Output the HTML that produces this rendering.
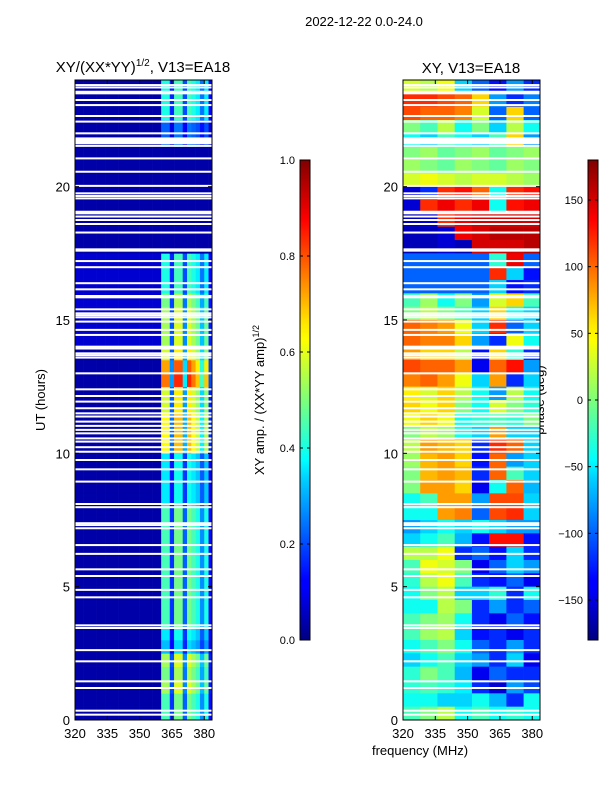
<!DOCTYPE html>
<html><head><meta charset="utf-8"><style>
body{margin:0;background:#fff;}
svg{display:block;font-family:"Liberation Sans",sans-serif;}
</style></head><body>
<svg id="fig" width="600" height="800" viewBox="0 0 600 800">
<defs>
<linearGradient id="jet" x1="0" y1="1" x2="0" y2="0">
<stop offset="0" stop-color="#000080"/><stop offset="0.11" stop-color="#0000ff"/><stop offset="0.125" stop-color="#0000ff"/>
<stop offset="0.34" stop-color="#00d4ff"/><stop offset="0.375" stop-color="#00ffff"/><stop offset="0.5" stop-color="#7dff7a"/>
<stop offset="0.625" stop-color="#ffff00"/><stop offset="0.66" stop-color="#ffe600"/><stop offset="0.875" stop-color="#ff0000"/><stop offset="1" stop-color="#800000"/>
</linearGradient>
</defs>
<text x="364" y="26" font-size="13" text-anchor="middle">2022-12-22 0.0-24.0</text>
<text x="143" y="72" font-size="15" text-anchor="middle">XY/(XX*YY)<tspan font-size="10" dy="-6">1/2</tspan><tspan dy="6">, V13=EA18</tspan></text>
<text x="471" y="73" font-size="15" text-anchor="middle">XY, V13=EA18</text>
<text transform="translate(45,400) rotate(-90)" font-size="13" text-anchor="middle">UT (hours)</text>
<text transform="translate(264,400) rotate(-90)" font-size="13" text-anchor="middle">XY amp. / (XX*YY amp)<tspan font-size="9" dy="-5">1/2</tspan></text>
<text transform="translate(544,400) rotate(-90)" font-size="13" text-anchor="middle">phase (deg)</text>
<text x="420" y="755" font-size="13" text-anchor="middle">frequency (MHz)</text>
<g id="left"></g><g id="right"></g><g id="cbars"></g>
</svg>
<script>
// ---- data ----
const freqTicks=[320,335,350,365,380];
const hourTicks=[0,5,10,15,20];
const ampTicks=[0.0,0.2,0.4,0.6,0.8,1.0];
const phaseTicks=[-150,-100,-50,0,50,100,150];
// left panel: amplitude band strength per half-hour row (0h upward)
const ampRow=[0.45,0.45,0.55,0.5,0.55,0.3,0.35,0.45,0.45,0.45,0.45,0.45,0.45,0.45,0.45,0.45,0.35,0.35,0.35,0.35,0.65,0.65,0.65,0.6,0.6,0.8,0.75,0.6,0.55,0.55,0.55,0.5,0.4,0.4,0.4,0,0,0,0,0,0,0,0,0.2,0.2,0.4,0.4,0.4];
// spectral shape across 2-MHz channels 320..384
const ampCol=[0,0,0,0,0,0,0,0,0,0,0,0,0,0,0,0,0,0,0,0,0.9,0.9,0.3,1,1,0.4,1,0.9,0.8,0.5,0.8,0.2];
const ampBase=0.04;
// right panel: phase (deg), 8 channels of 8 MHz, rows listed from top (24h) downward, half-hour each
const phaseRows=[
[30,20,40,-60,-100,-130,-80,-120],[120,120,110,100,60,-80,-120,-90],[110,100,100,90,30,-100,60,-100],[0,-20,20,-40,0,-60,20,-40],
[-40,-60,-20,-40,-60,-20,60,-80],[0,10,-10,0,10,-10,0,10],[10,0,-10,10,0,-10,10,0],[30,40,30,20,30,30,20,10],
[-150,-120,120,130,100,-40,120,130],[-150,120,140,120,140,-40,130,140],[-160,-150,120,140,150,150,150,150],[-160,-160,-150,140,150,160,160,160],
[-160,-160,-150,-160,150,150,150,160],[-100,-100,-100,-100,-100,-30,140,-100],[-100,-100,-100,-100,-100,120,-60,-130],[-100,-100,-100,-100,-100,-60,-130,-120],
[-20,10,-40,0,-80,30,60,-20],[0,20,0,-20,-60,60,-40,-60],[100,90,80,40,-60,120,-100,-60],[100,90,90,60,-80,-120,40,-40],
[80,60,60,20,-130,60,-30,-120],[110,100,100,80,-140,100,130,-80],[90,100,80,40,-60,80,-120,-60],[50,30,60,20,-40,-80,20,-40],
[60,40,60,0,-40,30,0,-30],[40,60,40,-40,-30,-20,-30,0],[0,20,10,-40,-60,80,-60,-60],[20,80,70,60,-120,120,100,-60],
[10,70,80,60,-130,100,-80,-60],[0,70,80,70,-120,100,-20,-60],[0,80,80,60,-140,-40,100,-70],[-40,-20,80,80,-80,110,110,-60],
[-40,-40,80,90,-100,110,120,-60],[-80,-60,-40,-60,-40,-60,-80,-80],[-60,-40,-20,-70,-130,130,130,-130],[20,20,40,-120,-100,-130,-60,-120],
[-20,40,30,0,-140,-100,-60,-80],[-30,20,40,-20,-120,-130,-100,-140],[-40,0,20,-60,-60,-30,-120,-40],[-40,-40,20,0,-120,-80,-120,-100],
[-20,0,10,-40,-120,-140,-100,-130],[-20,10,20,-60,-130,-120,-140,-120],[-40,-20,0,-40,-100,-120,-80,-120],[-60,-40,-20,-60,-80,-120,-60,-140],
[-30,0,-20,-70,-140,-100,-120,-120],[-30,-20,-30,-50,-120,-150,-80,-110],[-40,-40,-60,-60,-40,-70,-120,-40],[-20,0,20,-40,-20,-40,-30,-40]];
// flagged (blank) times in hours
const flagHours=[23.81,23.72,23.56,23.5,23.25,23.06,22.65,22.44,22.0,21.81,21.75,21.69,21.63,21.53,21.06,20.56,20.03,19.75,19.65,19.56,19.06,19.0,18.88,18.75,18.6,18.28,17.65,17.6,17.21,16.98,16.38,16.15,15.9,15.85,15.4,15.25,15.18,15.1,14.94,14.63,14.44,14.0,13.93,13.75,13.68,13.59,13.0,12.4,12.15,11.94,11.69,11.5,11.38,11.19,11.03,10.88,10.75,10.56,10.44,10.23,10.06,9.75,9.4,8.94,8.1,7.98,7.38,7.31,7.19,6.56,6.23,5.65,5.4,4.88,4.6,3.55,3.45,2.62,2.2,1.45,1.2,0.35,0.2];
// ---- layout ----
const NS='http://www.w3.org/2000/svg';
const yTop=80,yBot=720,fMin=320,fMax=383.6,hMax=24;
const yS=h=>yBot-(h/hMax)*(yBot-yTop);
function xS(x0,x1){return f=>x0+(f-fMin)/(fMax-fMin)*(x1-x0);}
function jet(t){t=Math.max(0,Math.min(1,t));const c=v=>Math.round(255*Math.max(0,Math.min(1,v)));
return `rgb(${c(1.5-Math.abs(4*t-3))},${c(1.5-Math.abs(4*t-2))},${c(1.5-Math.abs(4*t-1))})`;}
function mk(tag,attrs,parent){const e=document.createElementNS(NS,tag);for(const k in attrs)e.setAttribute(k,attrs[k]);parent.appendChild(e);return e;}
function axes(g,x0,x1,name){
  const x=xS(x0,x1);
  flagHours.forEach(h=>{const r=mk('rect',{x:x0,y:yS(h)-1,width:x1-x0,height:2,fill:'#fff'},g);
    
    });
  const fr=mk('rect',{x:x0,y:yTop,width:x1-x0,height:yBot-yTop,fill:'none',stroke:'#000','stroke-width':1},g);
  
  
  freqTicks.forEach(f=>{const xx=x(f);
    mk('line',{x1:xx,y1:yBot,x2:xx,y2:yBot-4,stroke:'#000'},g);mk('line',{x1:xx,y1:yTop,x2:xx,y2:yTop+4,stroke:'#000'},g);
    const t=mk('text',{x:xx,y:yBot+18,'font-size':13,'text-anchor':'middle'},g);t.textContent=f;
    
    });
  hourTicks.forEach(h=>{const yy=yS(h);
    mk('line',{x1:x0,y1:yy,x2:x0+4,y2:yy,stroke:'#000'},g);mk('line',{x1:x1,y1:yy,x2:x1-4,y2:yy,stroke:'#000'},g);
    const t=mk('text',{x:x0-5,y:yy+5,'font-size':13,'text-anchor':'end'},g);t.textContent=h;
    
    });
}
// left heatmap
const gl=document.getElementById('left');
const xl=xS(75,212);
for(let r=0;r<ampRow.length;r++){for(let c=0;c<ampCol.length;c++){
  const f0=fMin+c*2,f1=Math.min(fMax,f0+2);const h0=r*0.5;
  const v=ampBase+ampRow[r]*ampCol[c]+(r>=28&&r<35&&c<20?0.04:0);
  const e=mk('rect',{x:xl(f0),y:yS(h0+0.5),width:xl(f1)-xl(f0)+0.3,height:yS(h0)-yS(h0+0.5)+0.3,fill:jet(v)},gl);
  
  }}
axes(gl,75,212,'amp-panel');
// right heatmap
const gr=document.getElementById('right');
const xr=xS(403,540);
phaseRows.forEach((row,i)=>{const h1=hMax-i*0.5,h0=h1-0.5;
  row.forEach((v,c)=>{const f0=fMin+c*8,f1=Math.min(fMax,f0+8);
    const e=mk('rect',{x:xr(f0),y:yS(h1),width:xr(f1)-xr(f0)+0.3,height:yS(h0)-yS(h1)+0.3,fill:jet((v+180)/360)},gr);
    
    });});
axes(gr,403,540,'phase-panel');
// colorbars
const gc=document.getElementById('cbars');
function cbar(x,ticks,lo,hi,name,fmt){
  const b=mk('rect',{x:x,y:160,width:10,height:480,fill:'url(#jet)',stroke:'#000','stroke-width':1},gc);
  
  
  ticks.forEach(v=>{const yy=640-(v-lo)/(hi-lo)*480;
    mk('line',{x1:x,y1:yy,x2:x+3,y2:yy,stroke:'#000'},gc);mk('line',{x1:x+10,y1:yy,x2:x+7,y2:yy,stroke:'#000'},gc);
    const t=mk('text',{x:x-5,y:yy+4,'font-size':11,'text-anchor':'end'},gc);t.textContent=fmt(v);
    
    });
}
cbar(300,ampTicks,0,1,'amp-colorbar',v=>v.toFixed(1));
cbar(588,phaseTicks,-180,180,'phase-colorbar',v=>(v<0?'\u2212'+(-v):''+v));
</script>
</body></html>
